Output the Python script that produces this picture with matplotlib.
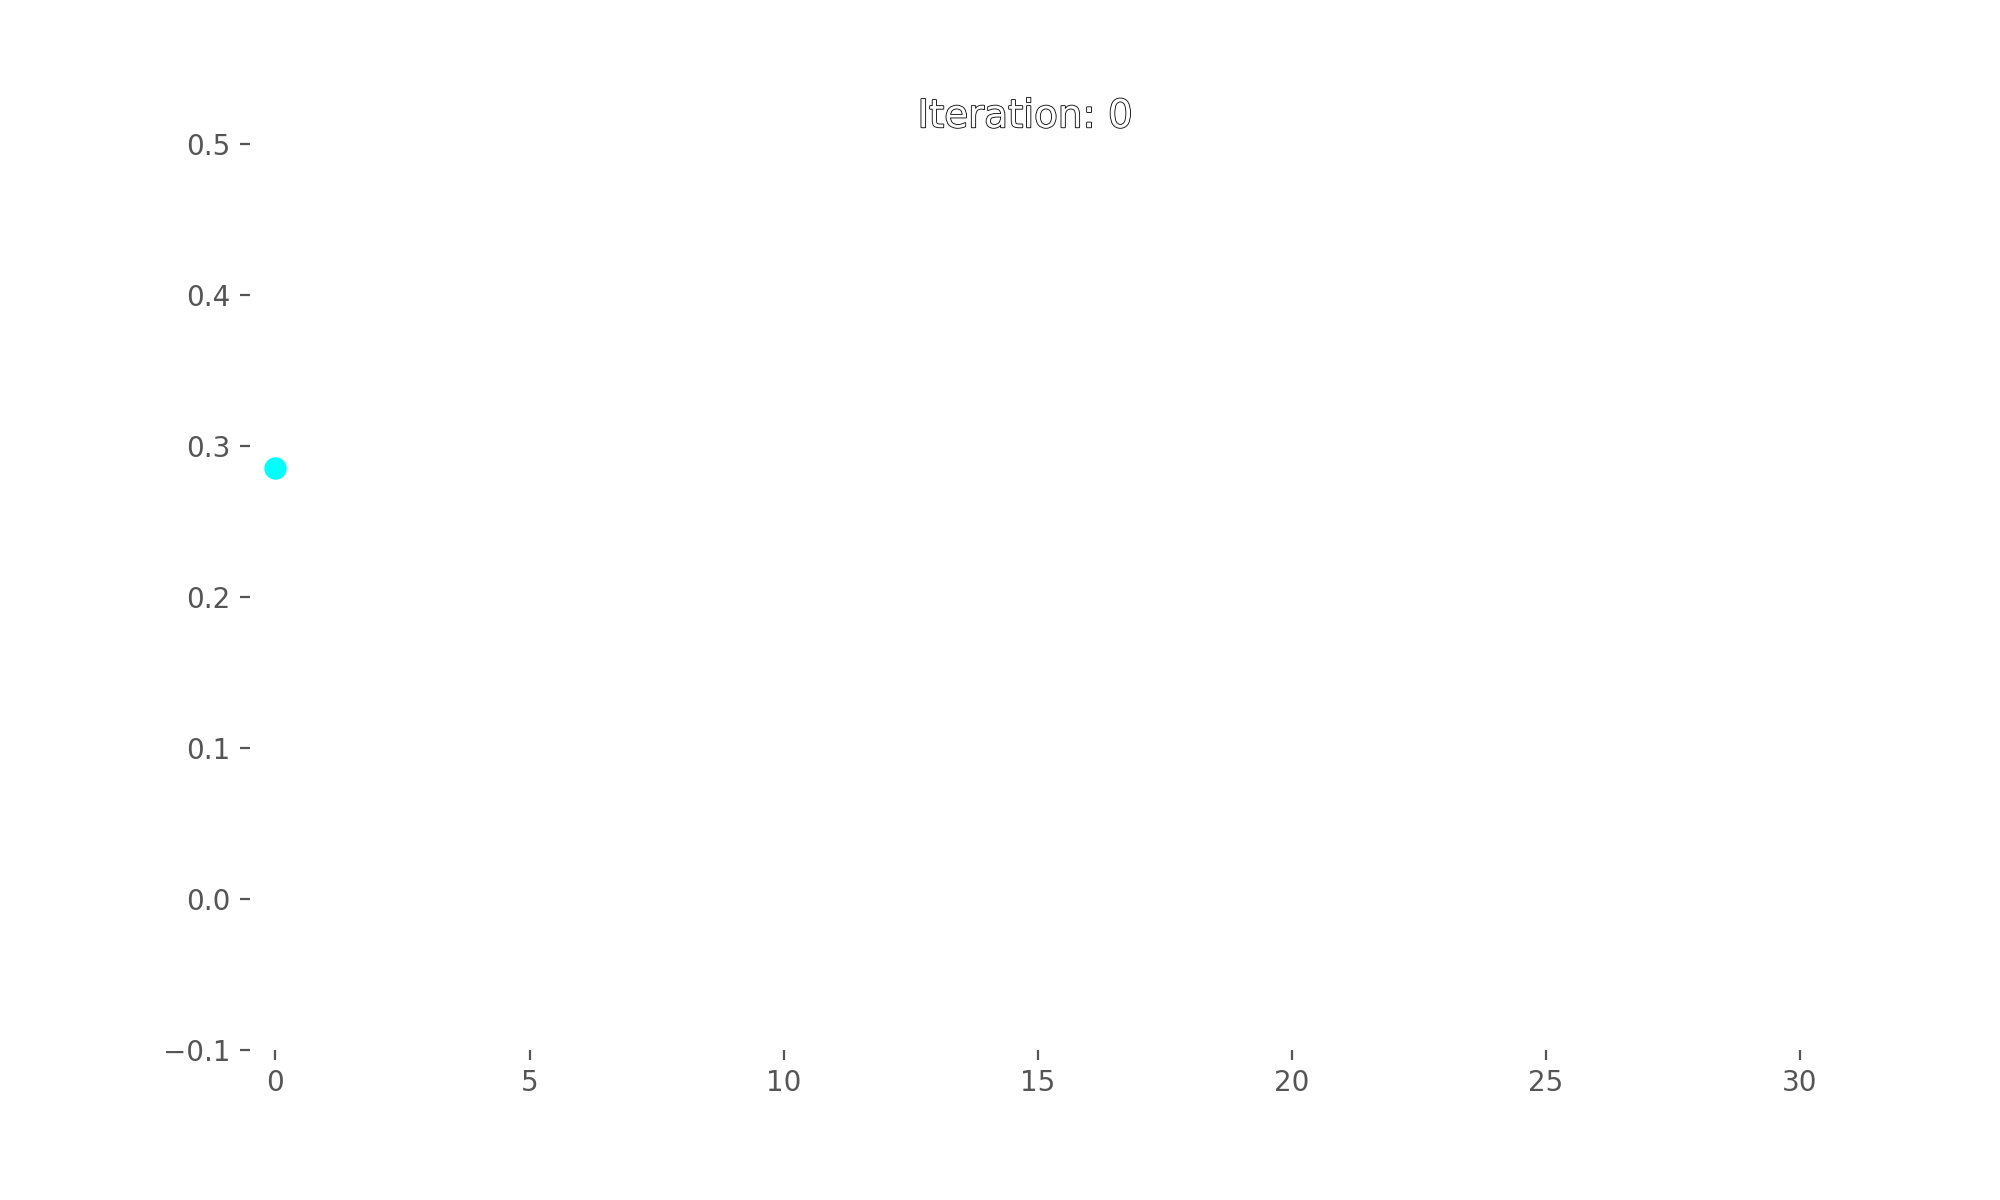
import matplotlib
matplotlib.use('Agg')
import matplotlib.pyplot as plt
import matplotlib.patheffects as pe

# points shown so far (first frame of the run)
iterations = [0]
values = [0.2855]
current_iter = 0

tick_color = '#555555'

fig, ax = plt.subplots(figsize=(10, 6), dpi=200)
fig.subplots_adjust(left=0.125, right=0.9, top=0.88, bottom=0.125)

ax.scatter(iterations, values, s=50, color='cyan', zorder=3)

ax.set_xlim(-0.5, 30)
ax.set_ylim(-0.1, 0.5)
ax.set_xticks(range(0, 31, 5))

for side in ['top', 'right', 'bottom', 'left']:
    ax.spines[side].set_visible(False)
ax.tick_params(colors=tick_color, labelsize=10)

title = ax.set_title(f'Iteration: {current_iter}', fontsize=14, color='white')
title.set_path_effects([pe.Stroke(linewidth=0.6, foreground='black'), pe.Normal()])

plt.savefig('out.png')
